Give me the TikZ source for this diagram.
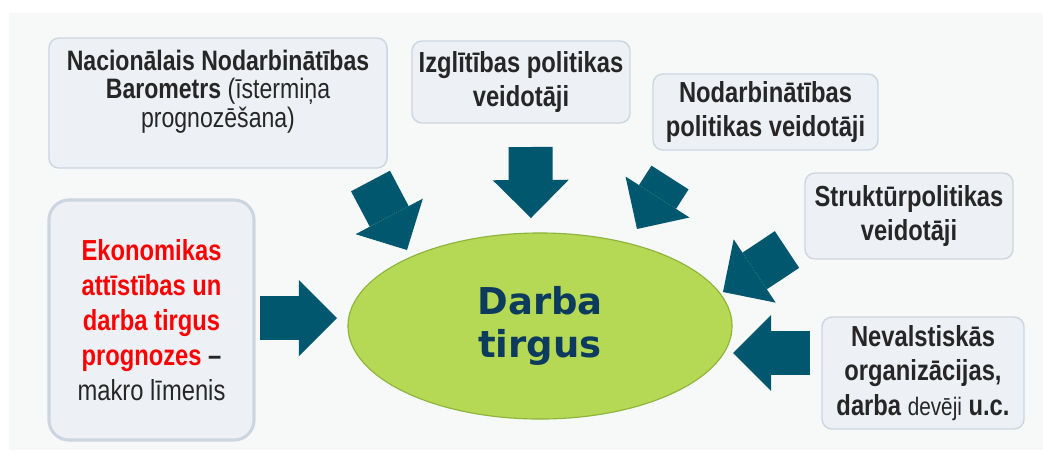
\documentclass[tikz,border=0pt]{standalone}
\usepackage{fontspec}
\setmainfont{Liberation Sans}
\newfontfamily\narrowfont{Liberation Sans}[FakeStretch=0.82]
\newfontfamily\dejafont{DejaVu Sans}
\usepackage{tikz}
\usetikzlibrary{arrows.meta,shapes.geometric,positioning}
\definecolor{bggray}{HTML}{F7F9F9}
\definecolor{boxfill}{HTML}{EDF0F4}
\definecolor{boxline}{HTML}{CDD6E0}
\definecolor{arrcol}{HTML}{01586E}
\definecolor{lmfill}{HTML}{B5D955}
\definecolor{lmline}{HTML}{8DB33A}
\definecolor{lmtext}{HTML}{0D3B5E}
\definecolor{ekred}{HTML}{FF0000}
\definecolor{txtcol}{HTML}{262626}
\tikzset{
  infobox/.style={draw=boxline, fill=boxfill, line width=1pt, rounded corners=0.25cm,
    inner sep=0pt, align=center, text=txtcol,
    font=\narrowfont\bfseries\fontsize{20.6pt}{24.5pt}\selectfont},
  blockarr/.style={draw=arrcol, line width=1.1cm, line cap=butt,
    -{Triangle[width=1.9cm,length=0.95cm,line width=0pt]}}
}

\begin{document}
\begin{tikzpicture}[x=0.025cm,y=-0.025cm]
        \useasboundingbox (0,0) rectangle (1043,450);
        %Background
        \fill[white] (0,0) rectangle (1043,450);
        \fill[bggray] (9,13) rectangle (1043,450);
        %Boxes
        \node[infobox, minimum width=8.45cm, minimum height=3.25cm,
          font=\narrowfont\mdseries\fontsize{20pt}{20.3pt}\selectfont] (nnb) at (218,103)
          {\textbf{Nacionālais Nodarbinātības}\\ \textbf{Barometrs} (īstermiņa\\ prognozēšana)\\ \mbox{}};
        \node[infobox, minimum width=5.45cm, minimum height=2.05cm] (izgl) at (521,82)
          {Izglītības politikas\\ veidotāji};
        \node[infobox, minimum width=5.625cm, minimum height=1.9cm] (nodp) at (765.5,112)
          {Nodarbinātības\\ politikas veidotāji};
        \node[infobox, minimum width=5.2cm, minimum height=2.15cm] (strp) at (909,216)
          {Struktūrpolitikas\\ veidotāji};
        \node[infobox, minimum width=5.05cm, minimum height=2.8cm] (nvo) at (923,373)
          {Nevalstiskās\\ organizācijas,\\ darba {\mdseries\fontsize{18pt}{24.5pt}\selectfont devēji} u.c.};
        \node[infobox, line width=2.2pt, rounded corners=0.5cm, minimum width=5.125cm,
          minimum height=6cm, font=\narrowfont\bfseries\fontsize{20.6pt}{25pt}\selectfont] (ekon) at (151.5,320)
          {\textcolor{ekred}{Ekonomikas}\\ \textcolor{ekred}{attīstības un}\\ \textcolor{ekred}{darba tirgus}\\
           \textcolor{ekred}{prognozes} –\\ {\mdseries makro līmenis}};
        %Labour market
        \node[ellipse, draw=lmline, fill=lmfill, line width=0.8pt, inner sep=0pt,
          minimum width=9.6cm, minimum height=4.65cm, align=center, text=lmtext,
          font=\dejafont\bfseries\fontsize{26.3pt}{30.6pt}\selectfont] (tirgus) at (540,326)
          {Darba\\ tirgus};
        %Arrow ends
        \coordinate (a1) at (370.5,181);  \coordinate (t1) at (407,250);
        \coordinate (a2) at (530.5,147);  \coordinate (t2) at (531,218);
        \coordinate (a3) at (670,177.5);  \coordinate (t3) at (637,229);
        \coordinate (a4) at (787,249.5);  \coordinate (t4) at (723,292);
        \coordinate (a5) at (810,353);    \coordinate (t5) at (733,353);
        \coordinate (a6) at (260,318);    \coordinate (t6) at (337,318);
        %Arrows
        \foreach \i in {1,...,6}
          \draw[blockarr] (a\i) -- (t\i);
      \end{tikzpicture}
\end{document}
